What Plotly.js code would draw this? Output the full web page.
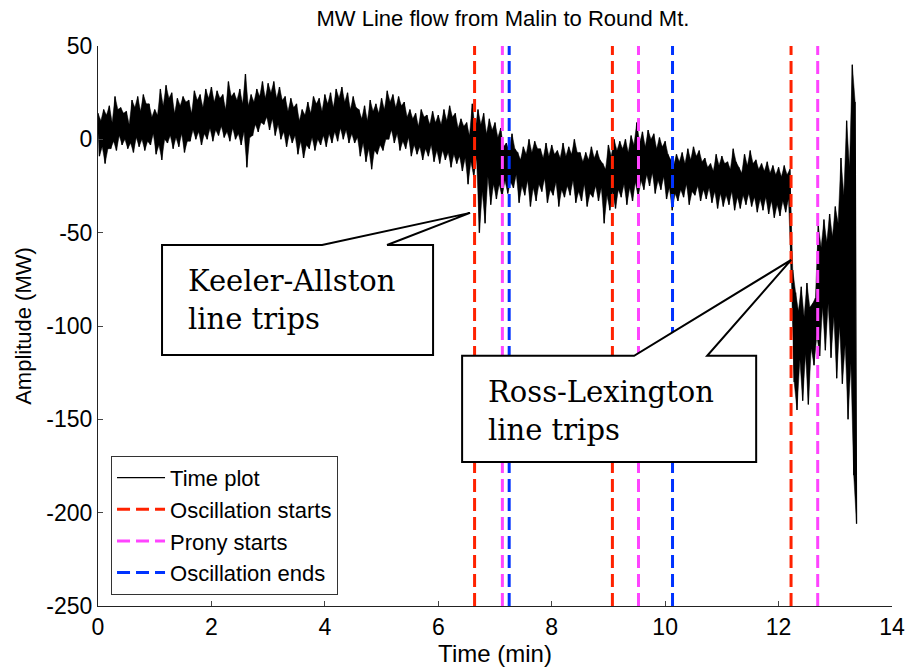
<!DOCTYPE html>
<html>
<head>
<meta charset="utf-8">
<script src="https://cdn.plot.ly/plotly-3.0.1.min.js"></script>
<style>html,body{margin:0;padding:0;background:#fff;}#chart{width:910px;height:670px;}</style>
</head>
<body>
<div id="chart"></div>
<script>
// Sampling interval (min) of the time plot; upper swings at k*0.05, lower swings at k*0.05+0.025
const dt = 0.025;
// Upper swings of the MW line flow (one value every 0.05 min from 0)
const mwHigh = [
  14,10, 16,13, 18,9, 23,16, 17,14, 15,8, 21,17, 23,15, 24,19, 19,12,
  16,13, 27,18, 29,22, 25,14, 22,18, 23,20, 21,14, 26,21, 24,17, 27,22,
  28,20, 26,22, 24,16, 31,23, 25,21, 27,19, 35,18, 24,20, 27,23, 31,22,
  30,25, 31,22, 28,21, 23,15, 22,17, 19,10, 16,13, 20,14, 23,19, 22,15,
  24,19, 25,17, 27,22, 28,20, 25,16, 23,17, 16,11, 18,10, 21,15, 19,14,
  22,16, 26,20, 24,17, 23,18, 20,12, 16,11, 14,7, 16,12, 13,8, 15,9,
  13,8, 16,10, 18,12, 14,6, 11,7, 9,2, 19,5, 16,8, 14,3, 11,5,
  9,1, 6,-4, -2,-6, 3,-5, -7,-11, -4,-8, 0,-7, -1,-5, -5,-10, -2,-9,
  -3,-8, -6,-10, -2,-9, -4,-8, 0,-7, -7,-12, -7,-11, -4,-10, -6,-11, -13,-16,
  -3,-9, 0,-6, -1,-5, 0,-7, 2,-3, 9,-2, 4,-4, 5,0, 3,-5, 1,-4,
  -1,-8, -11,-14, -8,-12, -7,-13, -5,-11, -4,-9, -6,-12, -10,-15, -13,-17, -8,-14,
  -9,-13, -12,-16, -5,-12, -15,-18, -8,-14, -6,-13, -11,-16, -13,-17, -12,-18, -14,-19,
  -15,-20, -14,-19, -16,-70, -82,-92, -79,-95, -77,-90, -88,-85, -46,-58, -43,-55, -40,-52,
  -36,-45, -10,-30, 10,-15, 40,20];
// Lower swings (one value every 0.05 min from 0.025)
const mwLow = [
  -9,-4, -13,-5, -5,-1, -6,2, -3,0, -5,-2, -7,1, -4,0, -6,-1, -3,3,
  -8,-3, -11,0, -2,2, -5,1, -4,3, -7,-1, -1,5, 0,4, -3,3, 0,6,
  -1,5, 2,7, 1,4, -1,6, 0,3, -3,4, -15,1, 2,8, 4,9, 8,12,
  5,11, 2,8, 0,4, -4,3, -2,2, -8,-1, -10,-3, -5,1, -6,0, -3,2,
  -4,3, -2,4, -1,6, 0,5, -2,3, -2,1, -9,-2, -12,-5, -16,-6, -8,-3,
  -6,0, 0,5, -2,3, -6,-1, -5,1, -9,-3, -8,-4, -11,-5, -9,-3, -12,-6,
  -13,-6, -11,-7, -15,-8, -13,-9, -17,-10, -24,-12, -20,-10, -50,-28, -45,-20, -35,-24,
  -32,-24, -31,-22, -29,-23, -26,-19, -34,-25, -30,-22, -36,-26, -33,-24, -28,-21, -34,-27,
  -30,-23, -36,-27, -31,-25, -30,-22, -34,-28, -33,-24, -36,-29, -31,-25, -33,-26, -45,-30,
  -38,-28, -37,-27, -31,-24, -35,-26, -33,-23, -31,-22, -27,-19, -25,-18, -29,-22, -27,-20,
  -32,-26, -38,-29, -33,-27, -31,-24, -35,-28, -30,-25, -33,-27, -32,-26, -34,-28, -37,-29,
  -36,-30, -35,-28, -38,-31, -37,-30, -35,-29, -36,-31, -39,-32, -38,-31, -40,-33, -42,-35,
  -41,-33, -39,-32, -73,-130, -145,-118, -140,-115, -142,-112, -121,-105, -116,-90, -113,-88, -117,-95,
  -128,-100, -131,-110, -150,-120, -180,-206];
// Event markers (min)
const oscStarts = [6.64, 9.07, 12.22];
const pronyStarts = [7.13, 9.53, 12.69];
const oscEnds = [7.25, 10.13];
// Axis ticks
const xTicks = [0,2,4,6,8,10,12,14];
const yTicks = [-250,-200,-150,-100,-50,0,50];
const yTickText = ['-250','-200','-150','-100','-50','0','50'];
const yRange = [-250, 50];

const tHigh = mwHigh.map((_, k) => +(2*k*dt).toFixed(4));
const tLow = mwLow.map((_, k) => +((2*k+1)*dt).toFixed(4));
const tAll = [], mwAll = [];
for (let k = 0; k < mwHigh.length; k++) {
  tAll.push(tHigh[k]); mwAll.push(mwHigh[k]);
  tAll.push(tLow[k]); mwAll.push(mwLow[k]);
}
function vlines(xs) {
  const x = [], y = [];
  xs.forEach(v => { x.push(v, v, null); y.push(yRange[0], yRange[1], null); });
  return {x, y};
}
const vs1 = vlines(oscStarts), vs2 = vlines(pronyStarts), vs3 = vlines(oscEnds);
const dashPat = '13px,6px';
const traces = [
  {x: tHigh, y: mwHigh, mode: 'lines', line: {width: 0.5, color: '#000'}, showlegend: false, hoverinfo: 'skip'},
  {x: tLow, y: mwLow, mode: 'lines', line: {width: 0.5, color: '#000'}, fill: 'tonexty', fillcolor: '#000', showlegend: false, hoverinfo: 'skip'},
  {x: tAll, y: mwAll, mode: 'lines', name: 'Time plot', line: {color: '#000', width: 1.3}},
  {x: vs1.x, y: vs1.y, mode: 'lines', name: 'Oscillation starts', line: {color: '#ff2200', width: 3, dash: dashPat}},
  {x: vs2.x, y: vs2.y, mode: 'lines', name: 'Prony starts', line: {color: '#ff44ff', width: 3, dash: dashPat}},
  {x: vs3.x, y: vs3.y, mode: 'lines', name: 'Oscillation ends', line: {color: '#0033ff', width: 3, dash: dashPat}}
];
const sans = 'Arial, "Liberation Sans", sans-serif';
const serif = '"DejaVu Serif", serif';
const layout = {
  width: 910, height: 670,
  margin: {l: 98, r: 18, t: 46, b: 64},
  paper_bgcolor: '#fff', plot_bgcolor: '#fff',
  font: {family: sans, color: '#000'},
  title: {text: 'MW Line flow from Malin to Round Mt.', font: {family: sans, size: 22, color: '#000'},
          xref: 'paper', x: 0.51, xanchor: 'center', y: 0.973, yanchor: 'middle'},
  xaxis: {range: [0, 14], tickvals: xTicks, ticks: 'inside', ticklen: 5, tickcolor: '#444',
          showline: true, linecolor: '#222', linewidth: 1, showgrid: false, zeroline: false,
          tickfont: {family: sans, size: 23, color: '#000'},
          title: {text: 'Time (min)', font: {family: sans, size: 24, color: '#000'}, standoff: 6}},
  yaxis: {range: yRange, tickvals: yTicks, ticktext: yTickText, ticks: 'inside', ticklen: 5, tickcolor: '#444',
          showline: true, linecolor: '#222', linewidth: 1, showgrid: false, zeroline: false,
          tickfont: {family: sans, size: 23, color: '#000'},
          title: {text: 'Amplitude (MW)', font: {family: sans, size: 22, color: '#000'}, standoff: 8}},
  legend: {x: 0.0164, y: 0.268, xanchor: 'left', yanchor: 'top', bgcolor: '#fff', traceorder: 'normal',
           bordercolor: '#333', borderwidth: 1, font: {family: sans, size: 22, color: '#000'},
           itemwidth: 48, tracegroupgap: 0},
  shapes: [
    {type: 'path', xref: 'x', yref: 'y', layer: 'above', fillcolor: '#fff', line: {color: '#000', width: 2},
     path: 'M1.129,-56.6 L3.951,-56.6 L6.561,-39.4 L5.097,-56.6 L5.908,-56.6 L5.908,-115.5 L1.129,-115.5 Z'},
    {type: 'path', xref: 'x', yref: 'y', layer: 'above', fillcolor: '#fff', line: {color: '#000', width: 2},
     path: 'M6.420,-116.0 L9.453,-116.0 L12.222,-64.6 L10.741,-116.0 L11.605,-116.0 L11.605,-172.8 L6.420,-172.8 Z'}
  ],
  annotations: [
    {x: 1.552, y: -86.0, xref: 'x', yref: 'y', xanchor: 'left', yanchor: 'middle', align: 'left', showarrow: false,
     text: 'Keeler-Allston<br>line trips', font: {family: serif, size: 29, color: '#000'}},
    {x: 6.843, y: -145.5, xref: 'x', yref: 'y', xanchor: 'left', yanchor: 'middle', align: 'left', showarrow: false,
     text: 'Ross-Lexington<br>line trips', font: {family: serif, size: 29, color: '#000'}}
  ]
};
Plotly.newPlot('chart', traces, layout, {staticPlot: true, displayModeBar: false});
</script>
</body>
</html>
